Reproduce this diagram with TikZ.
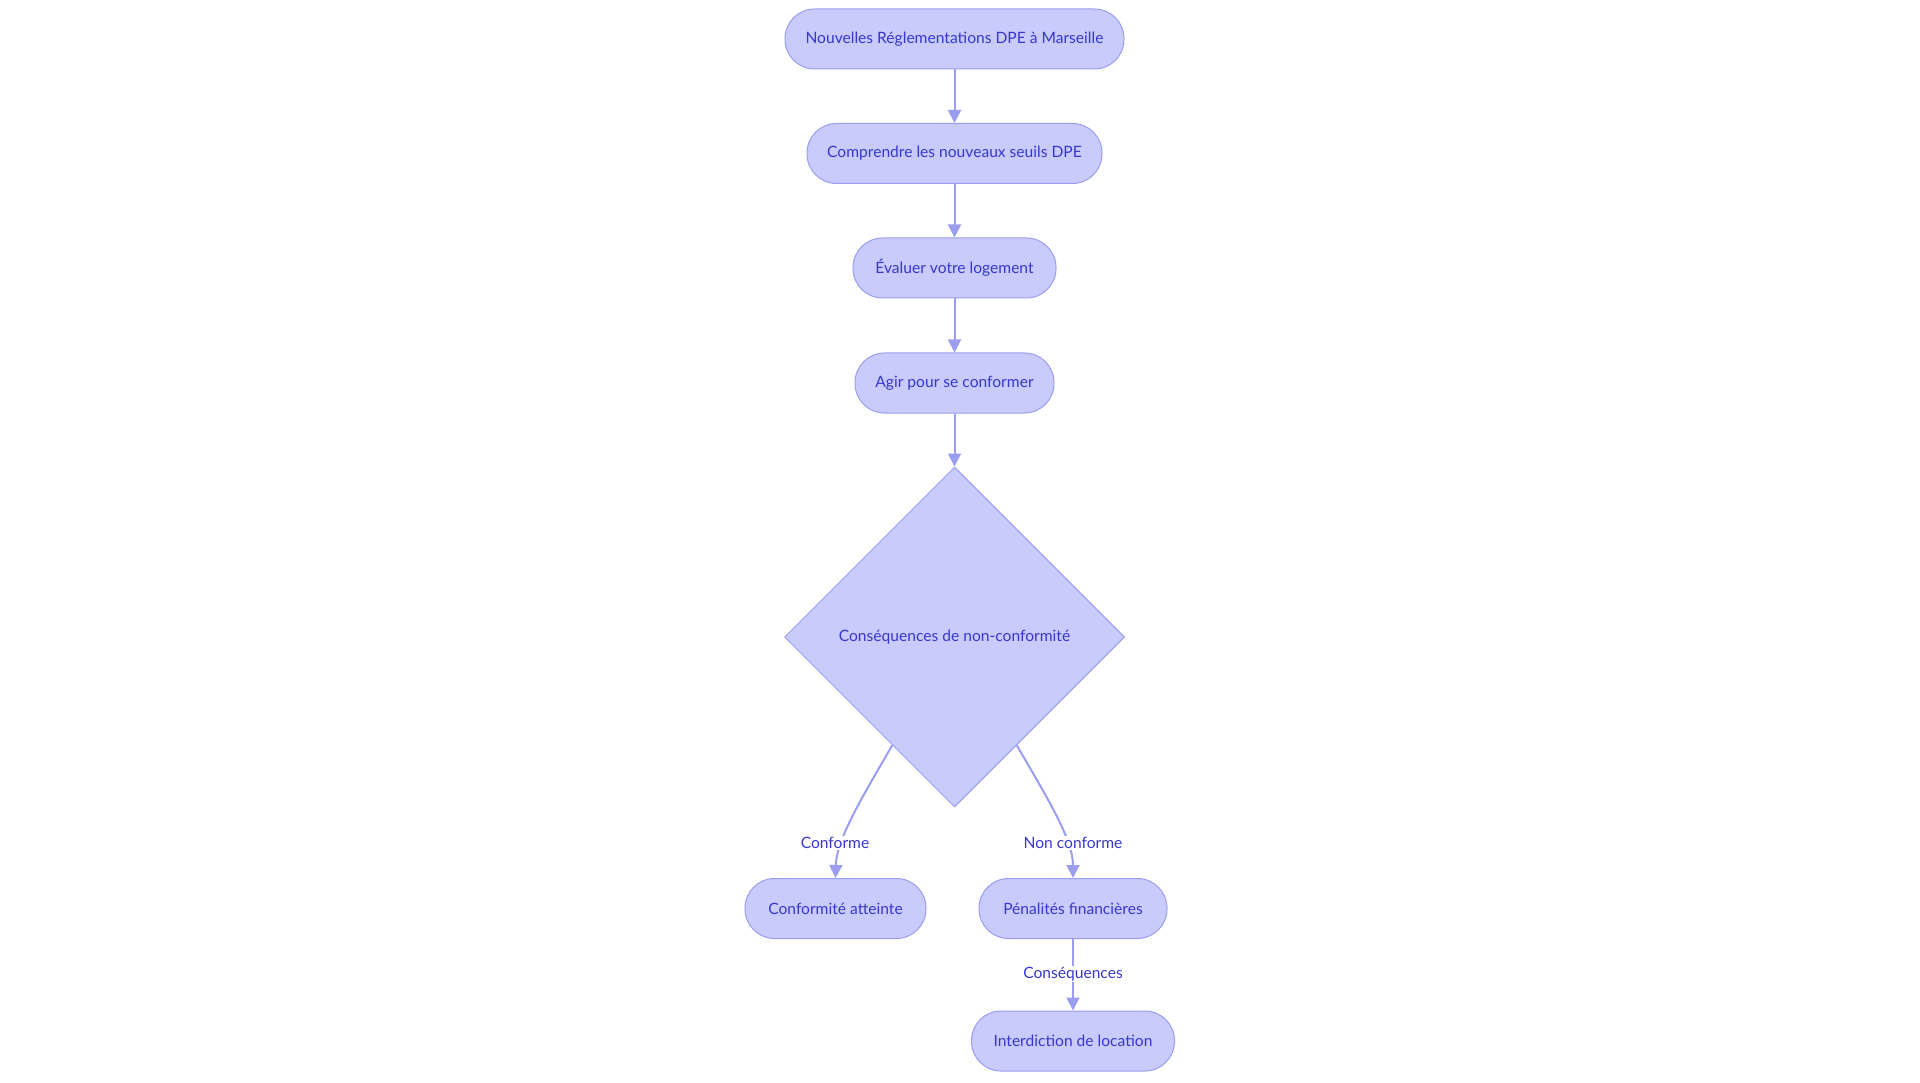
\documentclass[tikz,border=0pt]{standalone}
\usepackage{fontspec}
\setmainfont{Lato}
\usetikzlibrary{shapes.geometric,arrows.meta,calc}
\definecolor{fillc}{RGB}{200,203,251}
\definecolor{strokec}{RGB}{155,158,240}
\definecolor{textc}{RGB}{55,55,205}
\newcommand{\labfont}{\fontsize{15.6}{19}\selectfont}
\tikzset{
  stadium/.style={rectangle, rounded corners=29.5pt, draw=strokec, fill=fillc, line width=1pt,
    minimum height=60pt, inner sep=0pt, text=textc, font=\labfont},
  decision/.style={diamond, aspect=1, draw=strokec, fill=fillc, line width=1pt,
    minimum width=340pt, minimum height=340pt, inner sep=0pt, text=textc, font=\labfont},
  flow/.style={draw=strokec, line width=2pt, -{Triangle[length=13pt,width=13pt]}},
  elabel/.style={fill=white, inner sep=1.5pt, text=textc, font=\labfont}
}
\begin{document}
\begin{tikzpicture}[x=1pt,y=-1pt]
\useasboundingbox (0,0) rectangle (1920,1083);
\node[stadium, minimum width=339pt] (n1) at (954.5,39) {Nouvelles Réglementations DPE à Marseille};
\node[stadium, minimum width=295pt] (n2) at (954.5,153.5) {Comprendre les nouveaux seuils DPE};
\node[stadium, minimum width=203pt] (n3) at (954.5,268) {Évaluer votre logement};
\node[stadium, minimum width=199pt] (n4) at (954.5,383) {Agir pour se conformer};
\node[decision] (d) at (954.5,637) {Conséquences de non-conformité};
\node[stadium, minimum width=181pt] (c1) at (835.5,908.5) {Conformité atteinte};
\node[stadium, minimum width=188pt] (c2) at (1073,908.5) {Pénalités financières};
\node[stadium, minimum width=203pt] (c3) at (1073,1041) {Interdiction de location};

\draw[flow] (n1) -- (n2);
\draw[flow] (n2) -- (n3);
\draw[flow] (n3) -- (n4);
\draw[flow] (n4) -- (d);

\coordinate (dl) at ($(d.west)!0.635!(d.south)$);
\coordinate (dr) at ($(d.east)!0.635!(d.south)$);
\draw[flow] (dl) .. controls ($(dl)+(-32,55)$) and ($(c1.north)+(1,-38)$) .. (c1.north);
\draw[flow] (dr) .. controls ($(dr)+(32,55)$) and ($(c2.north)+(0,-38)$) .. (c2.north);
\draw[flow] (c2) -- (c3);

\node[elabel] (l1) at (835,843) {Conforme};
\node[elabel] (l2) at (1073,843) {Non conforme};
\node[elabel] (l3) at (1073,974) {Conséquences};
\end{tikzpicture}
\end{document}
